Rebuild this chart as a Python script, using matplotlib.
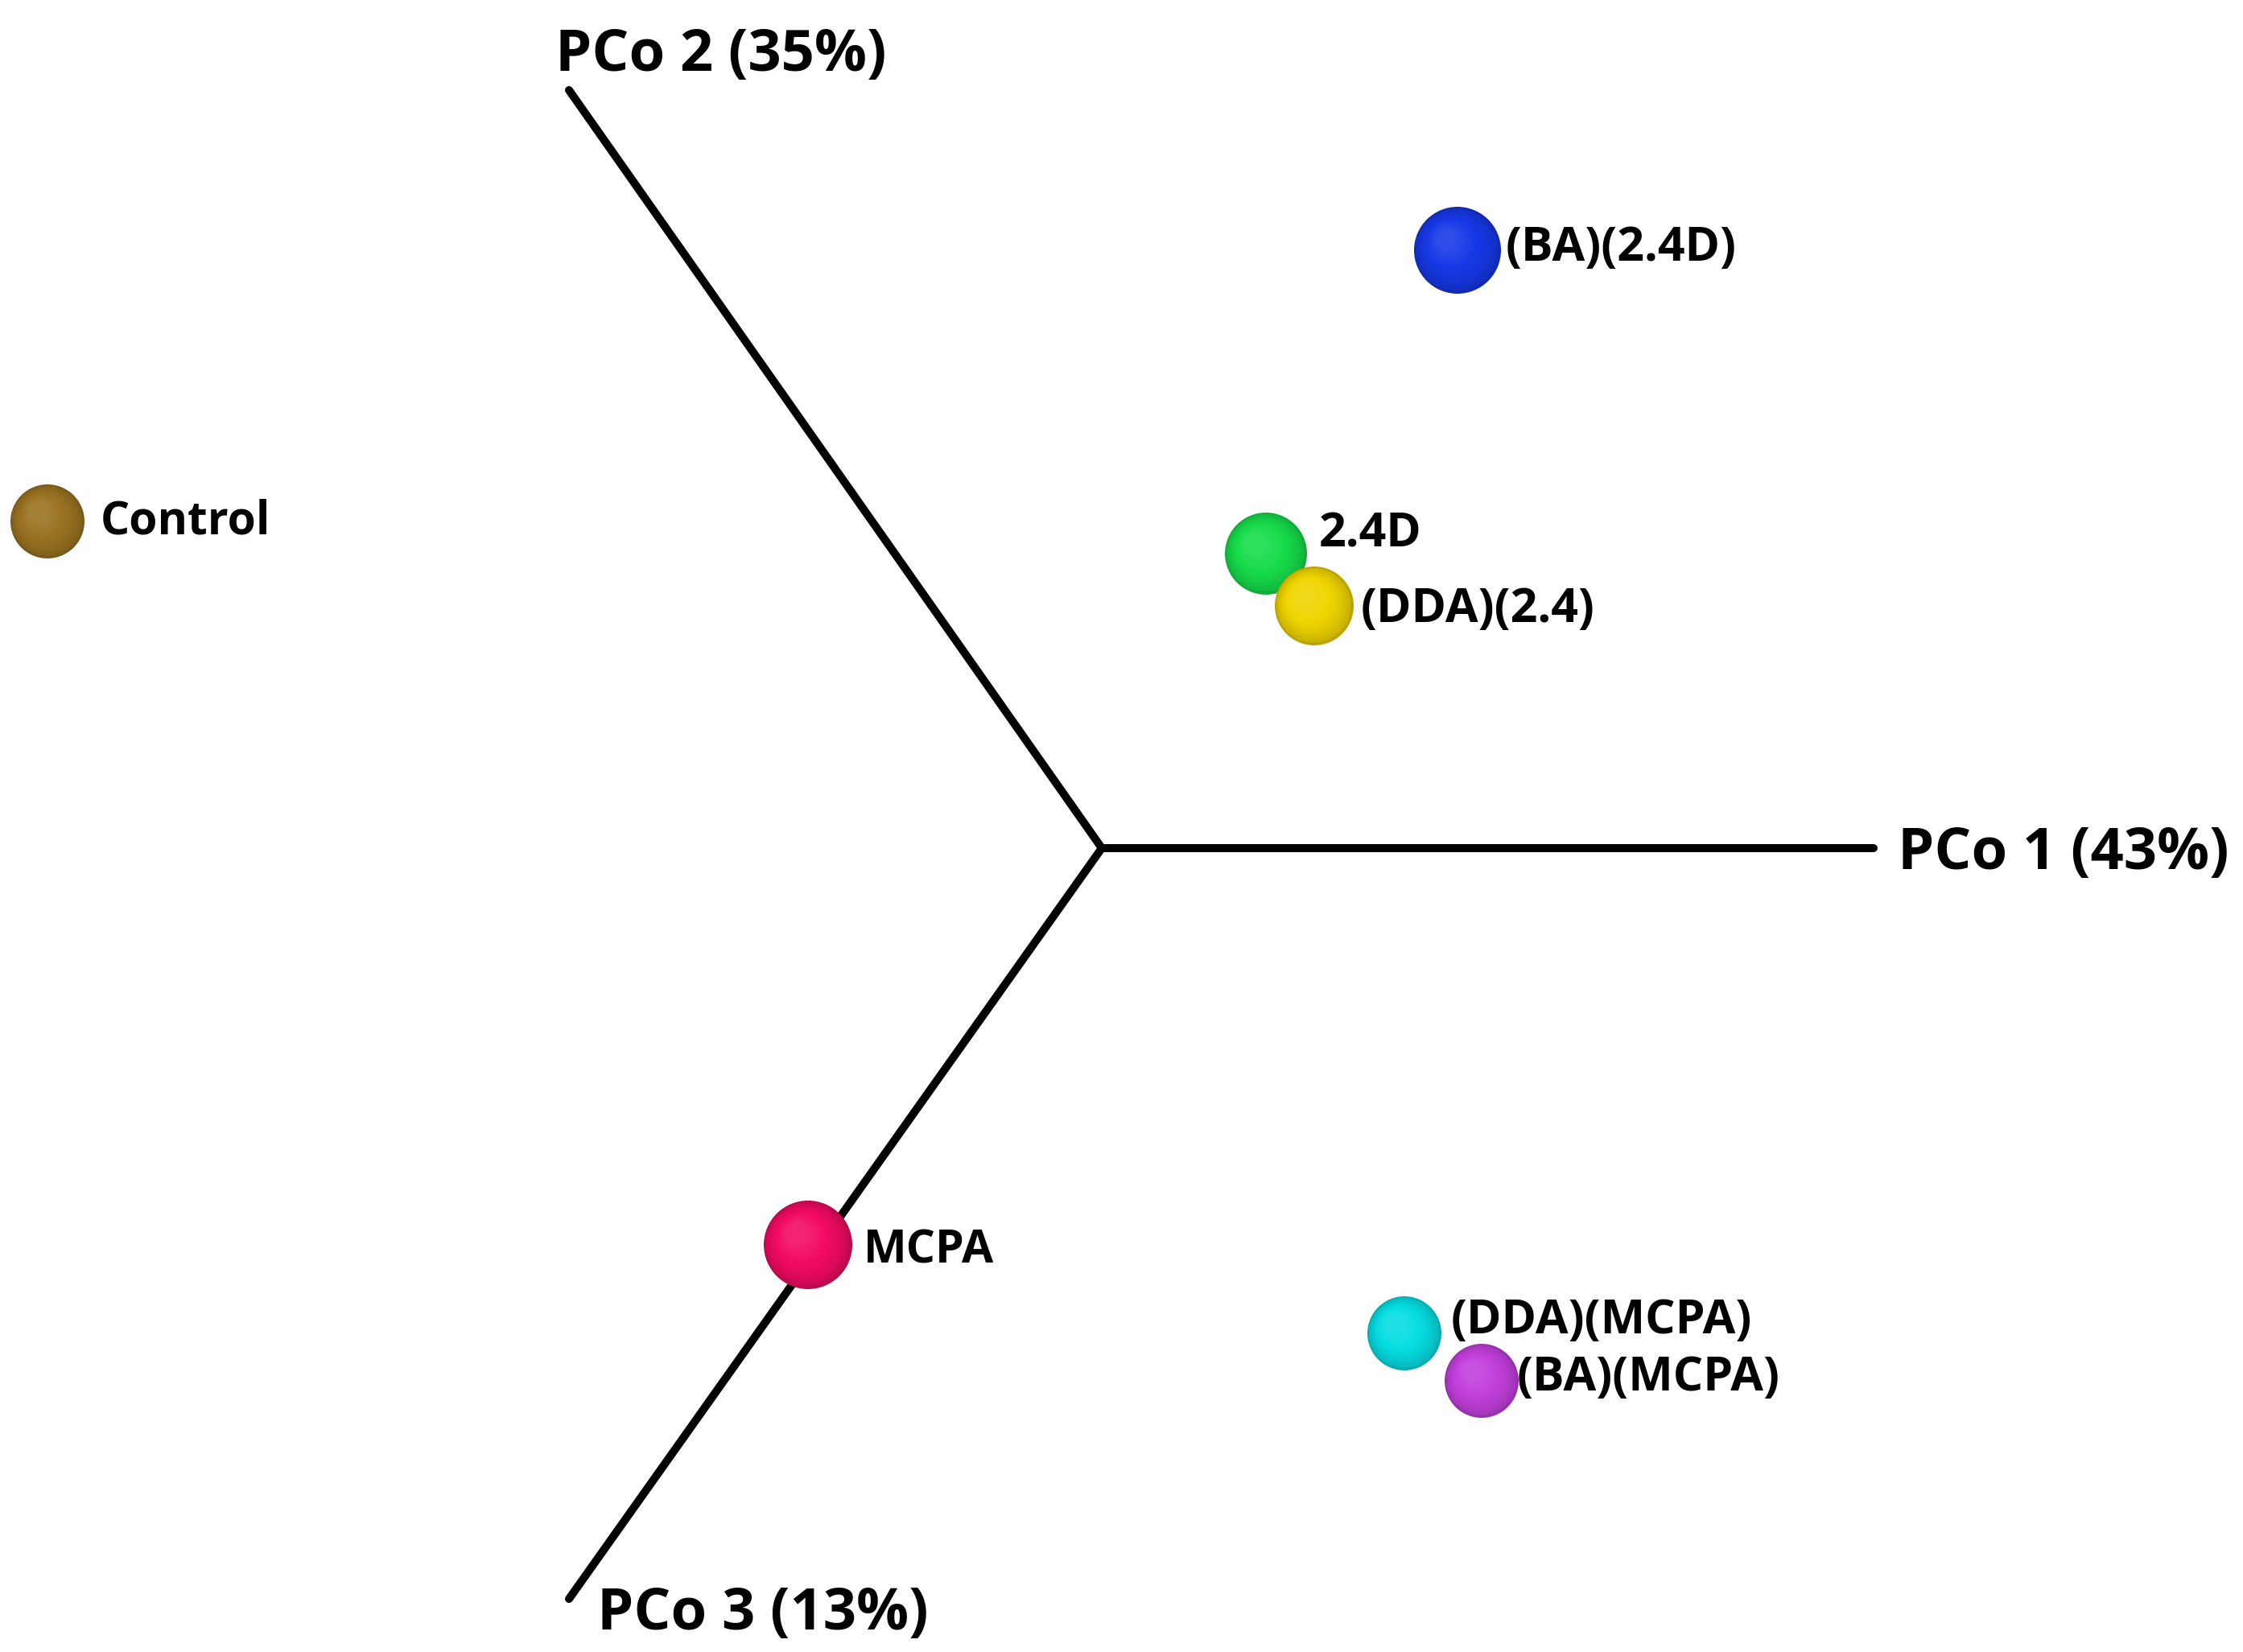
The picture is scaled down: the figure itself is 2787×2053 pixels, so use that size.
import matplotlib
matplotlib.use('Agg')
import matplotlib.pyplot as plt
import numpy as np

plt.rcParams['font.family'] = ['Open Sans', 'DejaVu Sans']

# projected PCoA positions (picture units, origin at the axes centre)
samples = ['Control', '(BA)(2.4D)', '2.4D', '(DDA)(2.4)', 'MCPA', '(DDA)(MCPA)', '(BA)(MCPA)']
pc_x = [-1310, 442, 204, 264, -365, 376, 472]
pc_y = [406, 743, 366, 301, -493, -603, -662]
colors = ['#9a7322', '#1638e6', '#17dc4a', '#f0d400', '#f20a62', '#06dde2', '#c23fdc']

# the three projected axes: end points and labels
axis_names = ['PCo 1 (43%)', 'PCo 2 (35%)', 'PCo 3 (13%)']
axis_end_x = [959, -662, -662]
axis_end_y = [0, 942, -933]

# style / layout
radius_px = [46, 54, 51, 49, 55, 46, 46]
label_off = [(66, -15), (60, -13), (66, 8), (58, -20), (69, -22), (58, 0), (44, -12)]
axis_label_off = [(30, -26), (-17, 24), (35, -38)]

W, H, dpi = 2787, 2053, 100
fig = plt.figure(figsize=(W / dpi, H / dpi), dpi=dpi)
ax = fig.add_axes([0, 0, 1, 1])
ax.set_xlim(-1369, W - 1369)
ax.set_ylim(-(H - 1054), 1054)
ax.axis('off')

for ex, ey in zip(axis_end_x, axis_end_y):
    ax.plot([0, ex], [0, ey], color='black', lw=7.2, solid_capstyle='round', zorder=1)

for name, ex, ey, off in zip(axis_names, axis_end_x, axis_end_y, axis_label_off):
    ax.annotate(name, (ex, ey), xytext=off, textcoords='offset pixels',
                fontsize=52, fontweight='bold', ha='left', va='baseline')

# shaded spheres: darker rim fading to a slightly lighter core up-left
def shade(c, f):
    rgb = np.array(matplotlib.colors.to_rgb(c))
    if f < 0:
        return tuple(rgb * (1 + f))
    return tuple(rgb + (1 - rgb) * f)

n_layers = 14
for i in range(len(samples)):
    r = radius_px[i] * 72 / dpi
    for k in range(n_layers):
        t = k / (n_layers - 1)
        scale = 1.0 - 0.75 * t
        f = -0.22 + 0.32 * t ** 0.6
        dx, dy = -r * 0.25 * t, r * 0.25 * t
        ax.scatter([pc_x[i]], [pc_y[i]], s=(2 * r * scale) ** 2, color=shade(colors[i], f),
                   edgecolors='none', zorder=3 + i * 0.1 + k * 0.001)
        ax.collections[-1].set_offsets([[pc_x[i] + dx * dpi / 72, pc_y[i] + dy * dpi / 72]])
    fs = 41 if samples[i] in ('Control', 'MCPA') else 42.5
    ax.annotate(samples[i], (pc_x[i], pc_y[i]), xytext=label_off[i], textcoords='offset pixels',
                fontsize=fs, fontweight='bold', ha='left', va='baseline', zorder=5)

plt.savefig('out.png', dpi=dpi)
